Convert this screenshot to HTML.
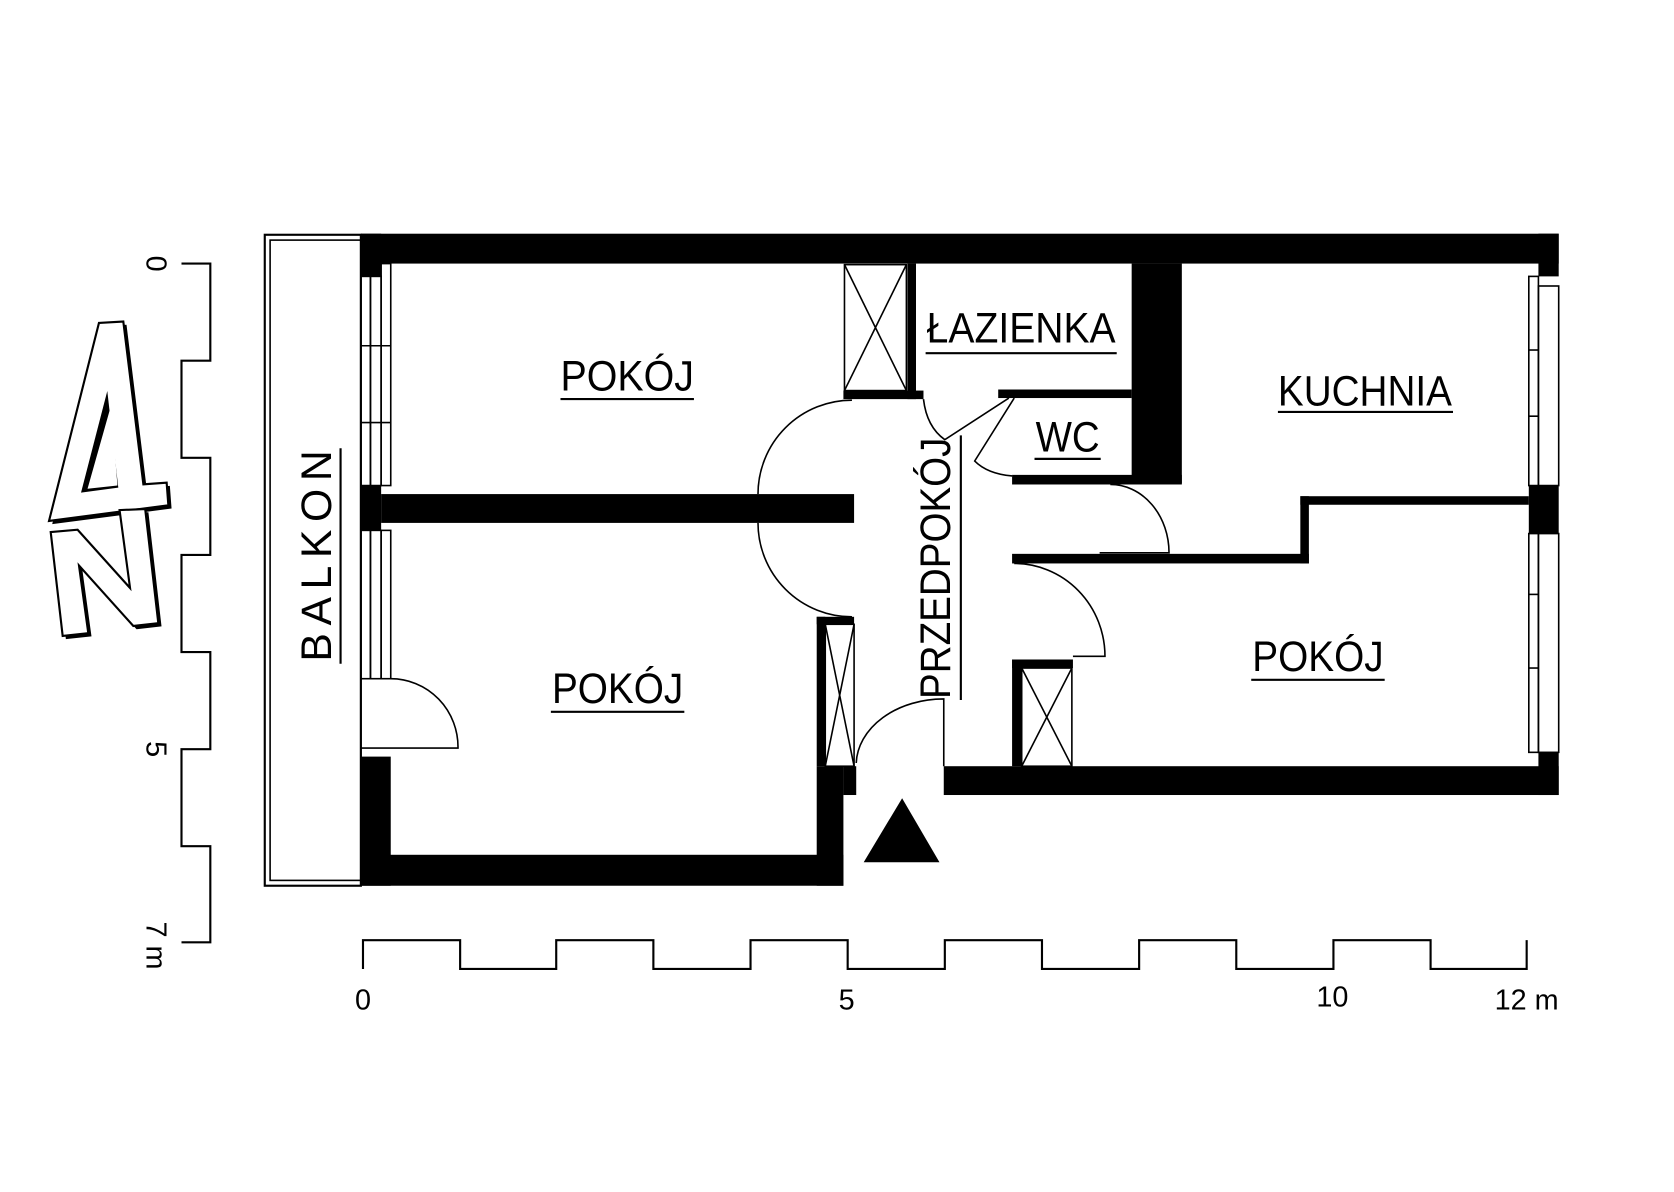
<!DOCTYPE html>
<html><head><meta charset="utf-8"><style>
html,body{margin:0;padding:0;background:#fff;}
svg{display:block}
text{font-family:"Liberation Sans",sans-serif;fill:#000}
</style></head><body>
<svg width="1674" height="1192" viewBox="0 0 1568 1117" preserveAspectRatio="none" xmlns="http://www.w3.org/2000/svg">
<rect width="1568" height="1117" fill="#fff"/>
<g fill="#000" transform="translate(3,3)">
<polygon points="92.7,302.6 115.5,301.3 134.3,453.9 156.1,452.3 157.7,473.5 45.9,488.2"/>
<polygon points="47.5,498.6 72.7,496.4 121.8,551 112,478 136,477 148.3,584 124.9,586.6 74,530 82.7,593.3 58.7,595.9"/>
</g>
<g fill="#fff" stroke="#000" stroke-width="2">
<polygon points="92.7,302.6 115.5,301.3 134.3,453.9 156.1,452.3 157.7,473.5 45.9,488.2"/>
<polygon points="47.5,498.6 72.7,496.4 121.8,551 112,478 136,477 148.3,584 124.9,586.6 74,530 82.7,593.3 58.7,595.9"/>
</g>
<polygon points="100.5,366.4 110.8,457 75.9,461.6" fill="#000"/>
<polygon points="104,380 110,455 82,458" fill="#fff"/>

<polyline fill="none" stroke="#000" stroke-width="2" points="170,247 197,247 197,338 170,338 170,429 197,429 197,520 170,520 170,611 197,611 197,702 170,702 170,793 197,793 197,883 170,883"/>
<text transform="translate(137,247) rotate(90)" font-size="27" text-anchor="middle">0</text>
<text transform="translate(137,702) rotate(90)" font-size="27" text-anchor="middle">5</text>
<text transform="translate(137,886) rotate(90)" font-size="27" text-anchor="middle">7 m</text>

<polyline fill="none" stroke="#000" stroke-width="2" points="340,908 340,881 431,881 431,908 521,908 521,881 612,881 612,908 703,908 703,881 794,881 794,908 885,908 885,881 976,881 976,908 1067,908 1067,881 1158,881 1158,908 1249,908 1249,881 1340,881 1340,908 1430,908 1430,881"/>
<text x="340" y="946" font-size="27" text-anchor="middle">0</text>
<text x="793" y="946" font-size="27" text-anchor="middle">5</text>
<text x="1248" y="943" font-size="27" text-anchor="middle">10</text>
<text x="1430" y="946" font-size="27" text-anchor="middle">12 m</text>

<rect x="248" y="220" width="90" height="610" fill="none" stroke="#000" stroke-width="2"/>
<rect x="253" y="225" width="85" height="600" fill="none" stroke="#000" stroke-width="1.5"/>
<text transform="translate(310,620) rotate(-90)" font-size="40" textLength="198" lengthAdjust="spacing">BALKON</text>
<line x1="319" y1="420" x2="319" y2="622" stroke="#000" stroke-width="2"/>

<g fill="#000">
<rect x="338" y="219" width="1122" height="28"/>
<rect x="338" y="219" width="19" height="40"/>
<rect x="338" y="455" width="19" height="42"/>
<rect x="338" y="709" width="28" height="121"/>
<rect x="338" y="801" width="452" height="29"/>
<rect x="357" y="463" width="443" height="27"/>
<rect x="765" y="578" width="8" height="140"/>
<rect x="765" y="578" width="35" height="7"/>
<rect x="765" y="718" width="25" height="112"/>
<rect x="790" y="718" width="12" height="27"/>
<rect x="790" y="366" width="75" height="8"/>
<rect x="850" y="247" width="8" height="127"/>
<rect x="935" y="365" width="125" height="8"/>
<rect x="948" y="445" width="159" height="9"/>
<rect x="1060" y="247" width="47" height="206"/>
<rect x="948" y="519" width="278" height="9"/>
<rect x="1218" y="465" width="8" height="63"/>
<rect x="1218" y="465" width="214" height="8"/>
<rect x="948" y="618" width="9" height="100"/>
<rect x="948" y="618" width="57" height="8"/>
<rect x="884" y="718" width="576" height="27"/>
<rect x="1441" y="219" width="19" height="40"/>
<rect x="1432" y="455" width="28" height="45"/>
<rect x="1441" y="705" width="19" height="40"/>
<polygon points="809,808 880,808 845,748"/>
</g>

<g fill="none" stroke="#000" stroke-width="1.5">
<rect x="338" y="259" width="9" height="196"/>
<rect x="347" y="259" width="10" height="196"/>
<line x1="338" y1="247" x2="338" y2="830"/>
<rect x="338" y="497" width="9" height="139"/>
<rect x="347" y="497" width="10" height="139"/>
<line x1="338" y1="324" x2="366" y2="324"/><line x1="338" y1="396" x2="366" y2="396"/>
<rect x="357" y="247" width="9" height="208"/>
<rect x="357" y="497" width="9" height="139"/>
<rect x="1432" y="259" width="9" height="196"/>
<rect x="1441" y="268" width="19" height="187"/>
<rect x="1432" y="500" width="9" height="205"/>
<rect x="1441" y="500" width="19" height="205"/>
<line x1="1432" y1="328" x2="1441" y2="328"/><line x1="1432" y1="390" x2="1441" y2="390"/>
<line x1="1432" y1="557" x2="1441" y2="557"/><line x1="1432" y1="626" x2="1441" y2="626"/>
<rect x="791" y="248" width="58" height="118"/>
<line x1="791" y1="248" x2="849" y2="366"/><line x1="849" y1="248" x2="791" y2="366"/>
<rect x="773" y="585" width="27" height="133"/>
<line x1="773" y1="585" x2="800" y2="718"/><line x1="800" y1="585" x2="773" y2="718"/>
<rect x="957" y="626" width="47" height="92"/>
<line x1="957" y1="626" x2="1004" y2="718"/><line x1="1004" y1="626" x2="957" y2="718"/>
<path d="M798,375 A88,88 0 0,0 710,463"/>
<path d="M710,490 A88,88 0 0,0 798,578"/>
<path d="M366,636 A63,64 0 0,1 429,701 L338,701"/>
<path d="M865,374 Q868,400 885,412 L945,373"/>
<path d="M950,373 L913,432 Q925,444 948,446"/>
<path d="M1040,454 A55,64 0 0,1 1095,518 L1030,518"/>
<path d="M950,528 A85,87 0 0,1 1035,615 L1005,615"/>
<path d="M802,715 A82,62 0 0,1 884,655 L884,718"/>
</g>

<g font-size="40">
<text x="525" y="366" textLength="125" lengthAdjust="spacingAndGlyphs">POKÓJ</text>
<text x="868" y="321" textLength="177" lengthAdjust="spacingAndGlyphs">ŁAZIENKA</text>
<text x="1197" y="380" textLength="163" lengthAdjust="spacingAndGlyphs">KUCHNIA</text>
<text x="970" y="423" textLength="60" lengthAdjust="spacingAndGlyphs">WC</text>
<text x="1173" y="629" textLength="123" lengthAdjust="spacingAndGlyphs">POKÓJ</text>
<text x="517" y="659" textLength="123" lengthAdjust="spacingAndGlyphs">POKÓJ</text>
<text transform="translate(890,655) rotate(-90)" textLength="245" lengthAdjust="spacingAndGlyphs">PRZEDPOKÓJ</text>
</g>
<g stroke="#000" stroke-width="2">
<line x1="525" y1="374" x2="650" y2="374"/>
<line x1="867" y1="331" x2="1046" y2="331"/>
<line x1="1197" y1="386" x2="1361" y2="386"/>
<line x1="969" y1="430" x2="1031" y2="430"/>
<line x1="1172" y1="637" x2="1297" y2="637"/>
<line x1="516" y1="667" x2="641" y2="667"/>
<line x1="900" y1="408" x2="900" y2="656"/>
</g>
</svg>
</body></html>
